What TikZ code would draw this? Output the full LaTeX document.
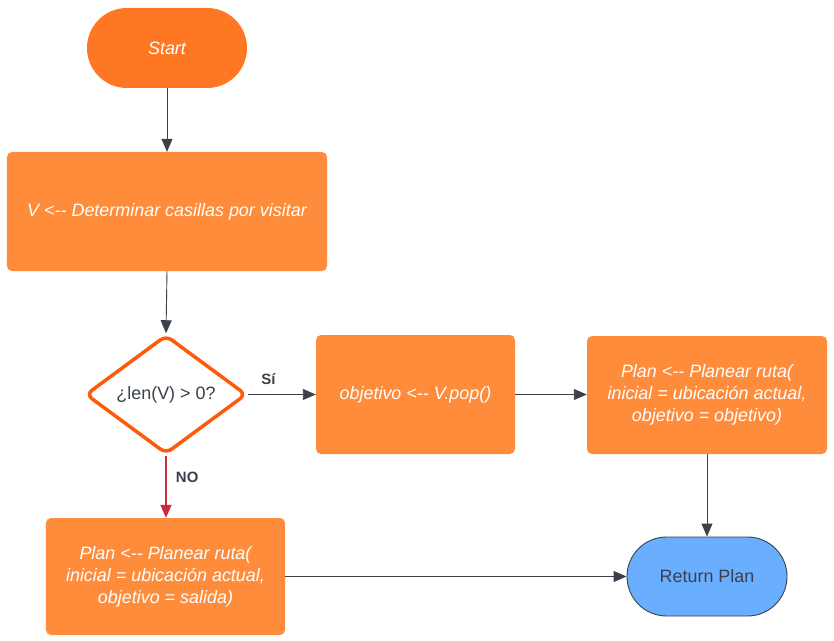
\documentclass[tikz,border=0pt]{standalone}
\usepackage{fontspec}
\setmainfont{Liberation Sans}
\usetikzlibrary{arrows.meta,shapes.geometric}
\definecolor{boxor}{HTML}{FF8C3A}
\definecolor{startor}{HTML}{FF7722}
\definecolor{diaor}{HTML}{FF5A0A}
\definecolor{retblue}{HTML}{6AAFFF}
\definecolor{lineg}{HTML}{3A414A}
\definecolor{nored}{HTML}{C92D39}
\begin{document}
\begin{tikzpicture}[x=1bp,y=-1bp,
  procbox/.style={fill=boxor,rounded corners=5bp,text=white,font=\fontsize{18}{22}\selectfont\itshape,align=center,inner sep=0pt},
  conn/.style={lineg,line width=0.9bp,-{Triangle[length=13bp,width=11bp]}},
  lbl/.style={text=lineg,font=\fontsize{15}{17}\selectfont\bfseries}]
\useasboundingbox (0,0) rectangle (834,641);
\fill[white] (0,0) rectangle (834,641);
\node[fill=startor,rounded corners=40bp,minimum width=160bp,minimum height=80bp,text=white,font=\fontsize{18}{20}\selectfont\itshape,inner sep=0pt] (start) at (167,48) {Start};
\node[procbox,minimum width=320bp,minimum height=119bp] (det) at (167,211.5) {V <-{}- Determinar casillas por visitar};
\node[diamond,draw=diaor,fill=white,line width=3.5bp,rounded corners=7bp,minimum width=161bp,minimum height=119bp,inner sep=0pt,text=lineg,font=\fontsize{18}{20}\selectfont] (dec) at (166,394.5) {¿len(V) > 0?};
\node[procbox,minimum width=199bp,minimum height=119bp] (pop) at (415.5,394.5) {objetivo <-{}- V.pop()};
\node[procbox,minimum width=240bp,minimum height=118bp] (plan1) at (707,395) {Plan <-{}- Planear ruta(\\inicial = ubicación actual,\\objetivo = objetivo)};
\node[procbox,minimum width=239bp,minimum height=117bp] (plan2) at (165.5,576.5) {Plan <-{}- Planear ruta(\\inicial = ubicación actual,\\objetivo = salida)};
\node[draw=lineg,line width=0.9bp,fill=retblue,rounded corners=39.5bp,minimum width=160bp,minimum height=79bp,text=lineg,font=\fontsize{18}{20}\selectfont,inner sep=0pt] (ret) at (707,576.5) {Return Plan};
\draw[conn] (start.south) -- (det.north);
\draw[conn] (det.south) -- (dec.north);
\draw[conn] (dec.east) -- node[lbl,above=6bp,pos=0.3] {Sí} (pop.west);
\draw[conn] (pop.east) -- (plan1.west |- pop.east);
\draw[conn,nored,line width=1.3bp] (dec.south) -- node[lbl,right=6bp,pos=0.35] {NO} (plan2.north -| dec.south);
\draw[conn] (plan1.south) -- (ret.north);
\draw[conn] (plan2.east) -- (ret.west);
\end{tikzpicture}
\end{document}
